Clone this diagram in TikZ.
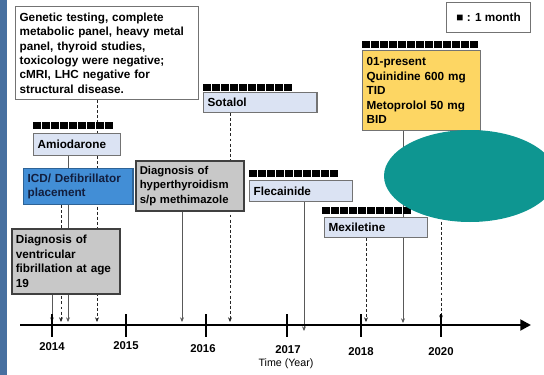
\documentclass[tikz,border=0pt]{standalone}
\usepackage{fontspec}
\setmainfont{Liberation Sans}
\usetikzlibrary{arrows.meta,shapes.geometric,backgrounds}
\definecolor{drugblue}{RGB}{219,227,243}
\definecolor{icdblue}{RGB}{66,142,214}
\definecolor{icdtext}{RGB}{18,30,62}
\definecolor{dxgray}{RGB}{200,200,200}
\definecolor{quingold}{RGB}{253,214,99}
\definecolor{tealblob}{RGB}{14,150,145}
\definecolor{stripblue}{RGB}{72,112,160}
\tikzset{
  evbox/.style={draw=#1, line width=0.9pt, anchor=north west, align=left,
    inner xsep=3pt, inner ysep=2pt, font=\bfseries\fontsize{8.8}{10.8}\selectfont},
  evbox/.default={black!55},
  drug/.style={evbox, fill=drugblue},
  dx/.style={evbox=black!75, fill=dxgray, line width=1.2pt},
  conn/.style={draw=black!65, line width=0.75pt, -{Stealth[length=3.5pt,width=3pt]}},
  dconn/.style={conn, draw=black!85, dash pattern=on 2.2pt off 1.6pt},
  yr/.style={font=\bfseries\fontsize{8.5}{10}\selectfont}
}
\newcommand{\monthbar}[3]{\foreach \k in {1,...,#3}{\fill ({#1+(\k-1)*9},#2) rectangle +(7.5,7);}}
\begin{document}
\begin{tikzpicture}[x=0.75pt,y=-0.75pt]
            \useasboundingbox (0,0) rectangle (544,375);
            \fill[stripblue] (0,0) rectangle (7,375);

            \node[evbox, fill=white, text width=131pt, minimum height=69.75pt] (genetic) at (15,6)
             {Genetic testing, complete\\metabolic panel, heavy metal\\panel, thyroid studies,\\toxicology were negative;\\cMRI, LHC negative for\\structural disease.};
            \node[draw=black!55, line width=0.9pt, anchor=north west, minimum width=63pt, minimum height=22.5pt,
             font=\bfseries\fontsize{8.8}{10}\selectfont] (legend) at (446,2) {■ : 1 month};

            \monthbar{33}{122}{9}
            \node[drug, text width=59pt, minimum height=16.5pt] (amio) at (33,133) {Amiodarone};
            \node[evbox=icdblue!70!black, fill=icdblue, text=icdtext, text width=76pt, minimum height=27pt] (icd) at (23,168)
             {ICD/ Defibrillator\\placement};
            \node[dx, text width=75pt, minimum height=48.75pt] (vfib) at (11,228)
             {Diagnosis of\\ventricular\\fibrillation at age\\19};
            \node[dx, text width=75pt, minimum height=37.5pt, font=\bfseries\fontsize{8.5}{10.8}\selectfont] (hyper) at (135,160)
             {Diagnosis of\\hyperthyroidism\\s/p methimazole};

            \monthbar{203}{84}{10}
            \node[drug, text width=79pt, minimum height=15pt] (sotalol) at (203,92) {Sotalol};
            \monthbar{249}{170}{10}
            \node[drug, text width=71pt, minimum height=15.75pt] (flec) at (249,180) {Flecainide};
            \monthbar{322}{207}{10}
            \node[drug, text width=71pt, minimum height=15pt] (mexil) at (324,217) {Mexiletine};
            \monthbar{362}{41}{13}
            \node[evbox, fill=quingold, text width=82.5pt, minimum height=60pt] (quin) at (362,50)
             {01-present\\Quinidine 600 mg\\TID\\Metoprolol 50 mg\\BID};

            \node[ellipse, fill=tealblob, minimum width=129pt, minimum height=69pt] (blob) at (470,176) {};

            \coordinate (start) at (20,325);
            \coordinate (end) at (531,325);
            \draw[line width=2.2pt, -{Triangle[length=8pt,width=8pt]}] (start) -- (end);
            \foreach \x/\lx/\ly/\lab in {52/52/347/2014, 126/126/346/2015, 206/203/349/2016,
                                         287/288/350/2017, 361/361/352/2018, 441/441/352/2020}{
              \draw[line width=1.6pt] (\x,314) -- (\x,337);
              \node[yr] (y\lab) at (\lx,\ly) {\lab};
            }
            \node[font=\fontsize{8}{10}\selectfont] (axlabel) at (286,364) {Time (Year)};

            \coordinate (p1) at (52,322);
            \coordinate (p2) at (61,322);
            \coordinate (p3) at (68,322);
            \coordinate (p4) at (97,322);
            \coordinate (p5) at (182,322);
            \coordinate (p6) at (230,322);
            \coordinate (p7) at (304,331);
            \coordinate (p8) at (366,322);
            \coordinate (p9) at (403,323);
            \coordinate (p10) at (441,320);

            \begin{scope}[on background layer]
             \draw[conn]  (vfib.south -| p1) -- (p1);
             \draw[dconn] (icd.south -| p2) -- (p2);
             \draw[conn]  (amio.south -| p3) -- (p3);
             \draw[dconn] (genetic.south -| p4) -- (p4);
             \draw[conn]  (hyper.south -| p5) -- (p5);
             \draw[dconn] (sotalol.south -| p6) -- (p6);
             \draw[conn]  (flec.south -| p7) -- (p7);
             \draw[dconn] (mexil.south -| p8) -- (p8);
             \draw[conn]  (quin.south -| p9) -- (p9);
             \draw[dconn] (blob.center -| p10) -- (p10);
            \end{scope}
\end{tikzpicture}
\end{document}
